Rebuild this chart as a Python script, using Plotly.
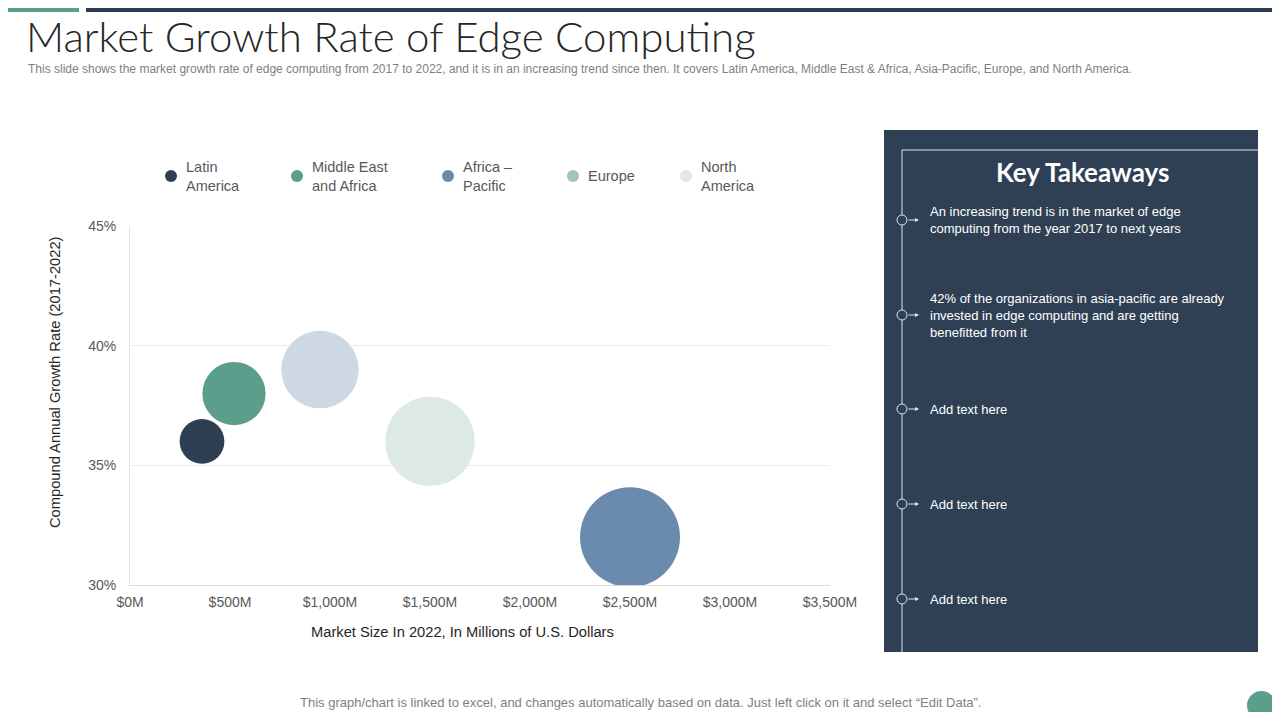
import plotly.graph_objects as go

# Chart data
regions = ["Latin<br>America", "Middle East<br>and Africa", "Africa –<br>Pacific", "Europe", "North<br>America"]
market_size = [360, 520, 2500, 950, 1500]      # $M, 2022
cagr = [36, 38, 32, 39, 36]                      # % 2017-2022
bubble_size = [10, 20, 50, 30, 40]
bubble_colors = ["#2e3f54", "#5c9e8c", "#6a8aae", "#cdd8e4", "#dce9e7"]
legend_colors = ["#2e3f54", "#5c9e8c", "#6a8aae", "#9fc4bb", "#dce9e5"]

x_ticks = [0, 500, 1000, 1500, 2000, 2500, 3000, 3500]
x_tick_labels = ["$0M", "$500M", "$1,000M", "$1,500M", "$2,000M", "$2,500M", "$3,000M", "$3,500M"]
y_ticks = [30, 35, 40, 45]
y_tick_labels = ["30%", "35%", "40%", "45%"]

takeaways = [
    "An increasing trend is in the market of edge<br>computing from the year 2017 to next years",
    "42% of the organizations in asia-pacific are already<br>invested in edge computing and are getting<br>benefitted from it",
    "Add text here",
    "Add text here",
    "Add text here",
]

# page has an 8px body margin, so the figure is a bit smaller and shifted
OFF = 8
W, H = 1280 - 2 * OFF, 720 - 2 * OFF

# plot area in screen pixels
L, R, T, B = 130, 830, 226, 585


def px(x):
    return (x - L) / (R - L)


def py(y):
    return (B - y) / (B - T)


fig = go.Figure()

for name, xs, ys, s, c in zip(regions, market_size, cagr, bubble_size, bubble_colors):
    fig.add_trace(go.Scatter(
        x=[xs], y=[ys], mode="markers", name=name.replace("<br>", " "), showlegend=False,
        marker=dict(size=[s], sizemode="area", sizeref=0.01, color=c, opacity=1,
                    line=dict(width=0)),
        hovertemplate="%{fullData.name}: $%{x}M, %{y}%<extra></extra>",
    ))

shapes = []
annotations = []

# legend row (markers + labels)
legend_x = [171, 297, 448, 573, 686]
for lx, name, c in zip(legend_x, regions, legend_colors):
    shapes.append(dict(type="circle", xref="paper", yref="paper",
                       x0=px(lx - 6), x1=px(lx + 6), y0=py(182), y1=py(170),
                       fillcolor=c, line=dict(width=0)))
    annotations.append(dict(xref="paper", yref="paper", x=px(lx + 13), y=py(176), xanchor="left", yanchor="middle",
                            align="left", showarrow=False, text=name,
                            font=dict(family="Liberation Sans", size=14.5, color="#595959")))

# top bars
shapes.append(dict(type="rect", xref="paper", yref="paper", x0=px(0), x1=px(79), y0=py(OFF + 4), y1=py(OFF),
                   fillcolor="#5c9e8c", line=dict(width=0), layer="above"))
shapes.append(dict(type="rect", xref="paper", yref="paper", x0=px(86), x1=px(1280), y0=py(OFF + 4), y1=py(OFF),
                   fillcolor="#2e3f54", line=dict(width=0), layer="above"))

# right panel
shapes.append(dict(type="rect", xref="paper", yref="paper", x0=px(884), x1=px(1258), y0=py(652), y1=py(130),
                   fillcolor="#2f4054", line=dict(width=0), layer="above"))
shapes.append(dict(type="line", xref="paper", yref="paper", x0=px(902), x1=px(902), y0=py(652), y1=py(150),
                   line=dict(color="#dfe3e8", width=1), layer="above"))
shapes.append(dict(type="line", xref="paper", yref="paper", x0=px(902), x1=px(1258), y0=py(150), y1=py(150),
                   line=dict(color="#dfe3e8", width=1), layer="above"))

bullet_y = [220, 315, 409, 504, 599]
for by, txt in zip(bullet_y, takeaways):
    shapes.append(dict(type="circle", xref="paper", yref="paper",
                       x0=px(897), x1=px(907), y0=py(by + 5), y1=py(by - 5),
                       fillcolor="#2f4054", line=dict(color="#dfe3e8", width=1), layer="above"))
    annotations.append(dict(xref="paper", yref="paper", x=px(919), y=py(by), ax=-12, ay=0,
                            text="", showarrow=True, standoff=0, startstandoff=0,
                            arrowhead=2, arrowsize=0.8, arrowwidth=1, arrowcolor="#dfe3e8"))
    annotations.append(dict(xref="paper", yref="paper", x=px(928), y=py(by), xanchor="left", yanchor="middle",
                            align="left", showarrow=False, text=txt,
                            font=dict(family="Liberation Sans", size=13, color="#ffffff")))

annotations.append(dict(xref="paper", yref="paper", x=px(1082), y=py(172), xanchor="center", yanchor="middle",
                        showarrow=False, text="<b>Key Takeaways</b>",
                        font=dict(family="Lato", size=26, color="#ffffff")))

# title and subtitle
annotations.append(dict(xref="paper", yref="paper", x=px(24), y=py(36), xanchor="left", yanchor="middle",
                        showarrow=False, text="Market Growth Rate of Edge Computing",
                        font=dict(family="Lato", size=42, color="#262626", weight=300)))
annotations.append(dict(xref="paper", yref="paper", x=px(26), y=py(69), xanchor="left", yanchor="middle",
                        showarrow=False,
                        text="This slide shows the market growth rate of edge computing from 2017 to 2022, and it is in an increasing trend since then. It covers Latin America, Middle East & Africa, Asia-Pacific, Europe, and North America.",
                        font=dict(family="Liberation Sans", size=12, color="#7f7f7f")))

# axis titles (offset from the plot centre, as in the slide)
annotations.append(dict(xref="paper", yref="paper", x=px(462), y=py(632), xanchor="center", yanchor="middle",
                        showarrow=False, text="Market Size In 2022, In Millions of U.S. Dollars",
                        font=dict(family="Liberation Sans", size=14.7, color="#262626")))
annotations.append(dict(xref="paper", yref="paper", x=px(55), y=py(383), xanchor="center", yanchor="middle",
                        showarrow=False, text="Compound Annual Growth Rate (2017-2022)", textangle=-90,
                        font=dict(family="Liberation Sans", size=14.7, color="#262626")))

# footer
annotations.append(dict(xref="paper", yref="paper", x=px(640), y=py(702), xanchor="center", yanchor="middle",
                        showarrow=False,
                        text="This graph/chart is linked to excel, and changes automatically based on data. Just left click on it and select “Edit Data”.",
                        font=dict(family="Liberation Sans", size=13, color="#7f7f7f")))
shapes.append(dict(type="circle", xref="paper", yref="paper", x0=px(1247), x1=px(1276), y0=py(720), y1=py(691),
                   fillcolor="#5c9e8c", line=dict(width=0), layer="above"))

fig.update_layout(
    width=W, height=H, autosize=False,
    margin=dict(l=L - OFF, r=W - (R - OFF), t=T - OFF, b=H - (B - OFF)),
    paper_bgcolor="#ffffff", plot_bgcolor="#ffffff",
    font=dict(family="Liberation Sans", color="#595959"),
    showlegend=False,
    shapes=shapes,
    annotations=annotations,
)

fig.update_xaxes(
    range=[0, 3500], tickvals=x_ticks, ticktext=x_tick_labels,
    showgrid=False, zeroline=False, showline=True, linecolor="#d9d9d9", linewidth=1,
    tickfont=dict(size=14, color="#595959"), ticklabelstandoff=4,
)
fig.update_yaxes(
    range=[30, 45], tickvals=y_ticks, ticktext=y_tick_labels,
    showgrid=True, gridcolor="#ececec", gridwidth=1, zeroline=False,
    showline=True, linecolor="#e6e6e6", linewidth=1,
    tickfont=dict(size=14, color="#595959"), ticklabelstandoff=10,
)

fig.write_html("out.html")
